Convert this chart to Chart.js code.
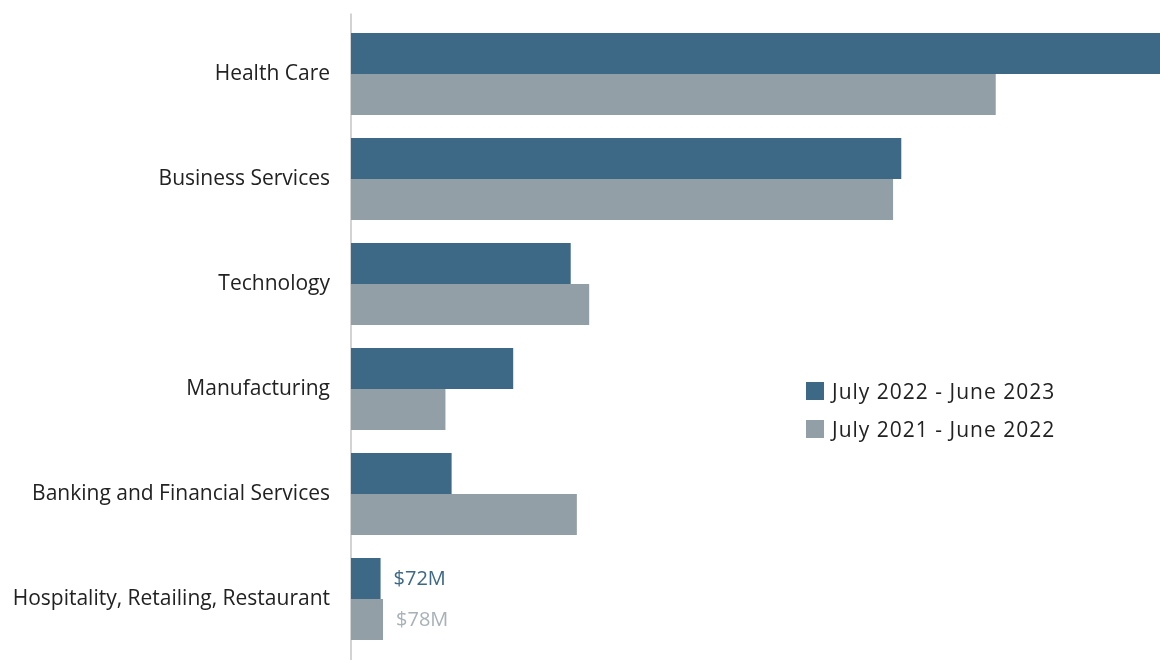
<!DOCTYPE html>
<html>
<head>
<meta charset="utf-8">
<script src="https://cdn.jsdelivr.net/npm/chart.js@4.4.0/dist/chart.umd.min.js"></script>
<style>
  html, body { margin: 0; padding: 0; background: #fff; }
  #wrap { position: relative; width: 1160px; height: 660px; }
  #legend { position: absolute; left: 806px; top: 372px; font-family: "Open Sans", sans-serif; font-size: 21px; letter-spacing: 1px; color: #222; }
  #legend .row { display: flex; align-items: center; height: 38px; }
  #legend .box { width: 18px; height: 18px; margin-right: 8px; }
</style>
</head>
<body>
<div id="wrap">
  <canvas id="chart" width="1160" height="660"></canvas>
  <div id="legend"></div>
</div>
<script>
// industries, top to bottom
const categories = [
  'Health Care',
  'Business Services',
  'Technology',
  'Manufacturing',
  'Banking and Financial Services',
  'Hospitality, Retailing, Restaurant'
];
// $M
const current = [1970, 1340, 535, 395, 245, 72];
const previous = [1570, 1320, 580, 230, 550, 78];
const seriesNames = ['July 2022 - June 2023', 'July 2021 - June 2022'];
const labelledCategory = 'Hospitality, Retailing, Restaurant';

const blue = '#3d6886';
const grey = '#939fa7';
const labelColors = [blue, '#a7b1b8'];
const fontFamily = '"Open Sans", sans-serif';

// axis line that runs a little past the plot area
const axisLine = {
  id: 'axisLine',
  beforeDatasetsDraw(chart) {
    const { ctx, chartArea } = chart;
    ctx.save();
    ctx.strokeStyle = '#c4c4c4';
    ctx.lineWidth = 1.5;
    ctx.beginPath();
    ctx.moveTo(chartArea.left, chartArea.top - 8);
    ctx.lineTo(chartArea.left, chart.height);
    ctx.stroke();
    ctx.restore();
  }
};

// "$72M" style labels on the last category only
const valueLabels = {
  id: 'valueLabels',
  afterDatasetsDraw(chart) {
    const { ctx } = chart;
    const idx = chart.data.labels.indexOf(labelledCategory);
    ctx.save();
    ctx.font = '20px ' + fontFamily;
    ctx.textAlign = 'left';
    ctx.textBaseline = 'middle';
    chart.data.datasets.forEach((ds, i) => {
      const bar = chart.getDatasetMeta(i).data[idx];
      ctx.fillStyle = labelColors[i];
      ctx.fillText('$' + ds.data[idx] + 'M', bar.x + 13, bar.y + 1);
    });
    ctx.restore();
  }
};

const ctx = document.getElementById('chart').getContext('2d');
const chart = new Chart(ctx, {
  type: 'bar',
  data: {
    labels: categories,
    datasets: [
      { label: seriesNames[0], data: current, backgroundColor: blue },
      { label: seriesNames[1], data: previous, backgroundColor: grey }
    ]
  },
  options: {
    indexAxis: 'y',
    responsive: false,
    animation: false,
    layout: { padding: { top: 21.5, bottom: 8.5, left: 0, right: 0 } },
    datasets: { bar: { categoryPercentage: 0.78, barPercentage: 1.0 } },
    plugins: {
      legend: { display: false },
      tooltip: { enabled: false }
    },
    scales: {
      x: {
        min: 0,
        max: 1970,
        display: false
      },
      y: {
        grid: { display: false },
        border: { display: false },
        ticks: {
          padding: 13,
          color: '#222',
          font: { family: fontFamily, size: 21 }
        },
        afterFit(scale) {
          scale.width = 351;
          scale.paddingTop = 0;
          scale.paddingBottom = 0;
        }
      }
    }
  },
  plugins: [axisLine, valueLabels]
});

// legend from the datasets
const legendEl = document.getElementById('legend');
chart.data.datasets.forEach(ds => {
  const row = document.createElement('div');
  row.className = 'row';
  const box = document.createElement('span');
  box.className = 'box';
  box.style.background = ds.backgroundColor;
  const txt = document.createElement('span');
  txt.textContent = ds.label;
  row.appendChild(box);
  row.appendChild(txt);
  legendEl.appendChild(row);
});
</script>
</body>
</html>
